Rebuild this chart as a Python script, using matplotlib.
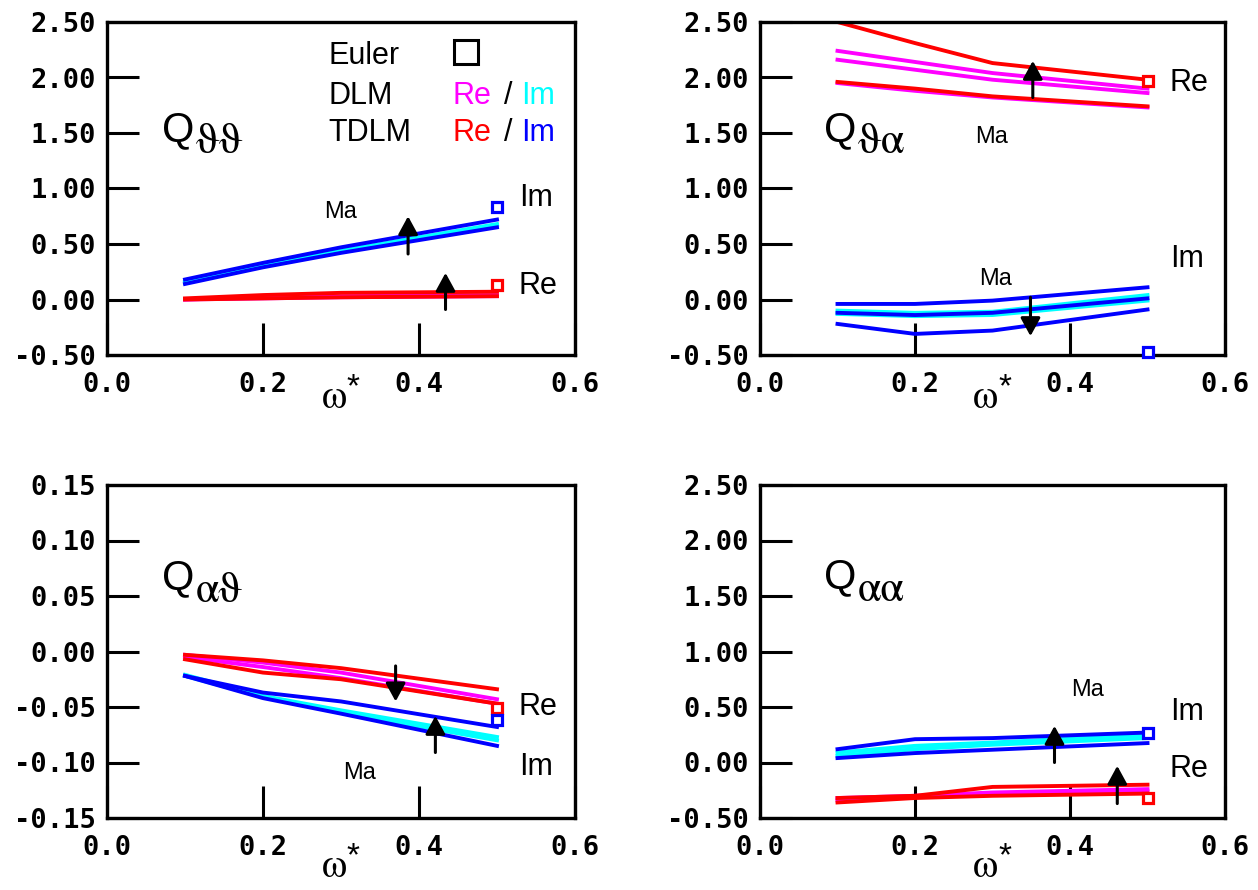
import matplotlib
matplotlib.use("Agg")
import matplotlib.pyplot as plt
import numpy as np
from matplotlib.ticker import FormatStrFormatter

plt.rcParams['axes.unicode_minus'] = False

# ---------------- data ----------------
omega = [0.1, 0.2, 0.3, 0.5]
omega_euler = 0.5

# Q_theta_theta
tt_dlm_re = [[0.00, 0.01, 0.02, 0.03], [0.00, 0.02, 0.03, 0.04]]
tt_dlm_im = [[0.16, 0.31, 0.44, 0.68], [0.15, 0.30, 0.43, 0.67]]
tt_tdlm_re = [[0.00, 0.01, 0.02, 0.03], [0.01, 0.04, 0.06, 0.07]]
tt_tdlm_im = [[0.14, 0.29, 0.42, 0.65], [0.18, 0.33, 0.47, 0.72]]
tt_euler_re = 0.13
tt_euler_im = 0.83

# Q_theta_alpha
ta_dlm_re = [[1.95, 1.88, 1.82, 1.73], [2.16, 2.07, 1.98, 1.86], [2.24, 2.14, 2.04, 1.90]]
ta_dlm_im = [[-0.10, -0.12, -0.11, 0.04], [-0.13, -0.15, -0.14, -0.01]]
ta_tdlm_re = [[1.96, 1.90, 1.83, 1.74], [2.50, 2.31, 2.13, 1.98]]
ta_tdlm_im = [[-0.04, -0.04, -0.01, 0.11], [-0.12, -0.14, -0.12, 0.01], [-0.22, -0.31, -0.28, -0.09]]
ta_euler_re = 1.97
ta_euler_im = -0.47

# Q_alpha_theta
at_dlm_re = [[-0.003, -0.010, -0.019, -0.043], [-0.005, -0.014, -0.024, -0.047]]
at_dlm_im = [[-0.021, -0.040, -0.053, -0.077], [-0.022, -0.041, -0.055, -0.080]]
at_tdlm_re = [[-0.003, -0.008, -0.015, -0.034], [-0.007, -0.019, -0.025, -0.047]]
at_tdlm_im = [[-0.022, -0.037, -0.045, -0.068], [-0.022, -0.042, -0.056, -0.085]]
at_euler_re = -0.051
at_euler_im = -0.062

# Q_alpha_alpha
aa_dlm_re = [[-0.32, -0.30, -0.27, -0.24], [-0.34, -0.31, -0.29, -0.26]]
aa_dlm_im = [[0.09, 0.15, 0.18, 0.25], [0.06, 0.12, 0.16, 0.22]]
aa_tdlm_re = [[-0.36, -0.32, -0.30, -0.28], [-0.32, -0.30, -0.22, -0.20]]
aa_tdlm_im = [[0.04, 0.085, 0.115, 0.175], [0.12, 0.21, 0.22, 0.27]]
aa_euler_re = -0.32
aa_euler_im = 0.27

x_ticks = [0.0, 0.2, 0.4, 0.6]
y_ticks_big = [-0.5, 0.0, 0.5, 1.0, 1.5, 2.0, 2.5]
y_ticks_small = [-0.15, -0.10, -0.05, 0.0, 0.05, 0.10, 0.15]

C_DLM_RE = '#ff00ff'
C_DLM_IM = '#00ffff'
C_TDLM_RE = '#ff0000'
C_TDLM_IM = '#0000ff'

SANS = 'Liberation Sans'
TICKFONT = dict(family='DejaVu Sans Mono', weight='bold', size=19.5)

fig = plt.figure(figsize=(12.58, 8.90), dpi=100)

W, H = 1258.0, 890.0
def add_ax(l, r, t, b):
    return fig.add_axes([l / W, 1 - b / H, (r - l) / W, (b - t) / H])

ax1 = add_ax(107, 575, 22, 355)
ax2 = add_ax(760, 1225, 22, 355)
ax3 = add_ax(107, 575, 485, 818)
ax4 = add_ax(760, 1225, 485, 818)


def style(ax, yticks, yfmt, xlab_y):
    ax.set_xlim(0, 0.6)
    ax.set_ylim(yticks[0], yticks[-1])
    ax.set_xticks(x_ticks)
    ax.set_yticks(yticks)
    ax.xaxis.set_major_formatter(FormatStrFormatter('%.1f'))
    ax.yaxis.set_major_formatter(FormatStrFormatter(yfmt))
    for s in ax.spines.values():
        s.set_linewidth(2.4)
    ax.tick_params(direction='in', length=23, width=2.2, top=False, right=False)
    ax.tick_params(axis='x', pad=12)
    ax.tick_params(axis='y', pad=8)
    for lab in ax.get_xticklabels() + ax.get_yticklabels():
        lab.set_fontfamily(TICKFONT['family'])
        lab.set_fontweight(TICKFONT['weight'])
        lab.set_fontsize(TICKFONT['size'])
    # axis label: upright omega with a star
    ax.text(0.485, xlab_y, '\u03c9', transform=ax.transAxes, ha='center',
            va='baseline', fontsize=29, family='STIXGeneral', clip_on=False)
    ax.annotate('*', xy=(0.485, xlab_y), xycoords='axes fraction',
                xytext=(9, 9), textcoords='offset points', ha='left',
                va='baseline', fontsize=24, family=SANS, annotation_clip=False)


def draw(ax, dlm_re, dlm_im, tdlm_re, tdlm_im, e_re, e_im):
    for ys in dlm_re:
        ax.plot(omega, ys, color=C_DLM_RE, lw=2.8, solid_joinstyle='miter')
    for ys in dlm_im:
        ax.plot(omega, ys, color=C_DLM_IM, lw=2.8, solid_joinstyle='miter')
    for ys in tdlm_re:
        ax.plot(omega, ys, color=C_TDLM_RE, lw=2.8, solid_joinstyle='miter')
    for ys in tdlm_im:
        ax.plot(omega, ys, color=C_TDLM_IM, lw=2.8, solid_joinstyle='miter')
    ax.plot([omega_euler], [e_re], ls='none', marker='s', ms=7.5, mfc='white',
            mec=C_TDLM_RE, mew=2.3, clip_on=False, zorder=5)
    ax.plot([omega_euler], [e_im], ls='none', marker='s', ms=7.5, mfc='white',
            mec=C_TDLM_IM, mew=2.3, clip_on=False, zorder=5)


def arrow(ax, x, y0, y1):
    ax.annotate('', xy=(x, y1), xytext=(x, y0),
                arrowprops=dict(arrowstyle='-|>,head_width=0.3,head_length=0.55',
                                mutation_scale=20, lw=2.2, color='k',
                                shrinkA=0, shrinkB=0))


def title(ax, x, y, sub):
    ax.text(x, y, 'Q', fontsize=30, family=SANS, va='baseline', ha='left')
    ax.annotate(sub, xy=(x, y), xytext=(24, -9), textcoords='offset points',
                fontsize=31, family='STIXGeneral', va='baseline', ha='left')


def label(ax, x, y, s, size=22, color='k'):
    ax.text(x, y, s, fontsize=size, family=SANS, color=color, va='baseline', ha='left')


# ---- panel 1 ----
style(ax1, y_ticks_big, '%.2f', -0.16)
draw(ax1, tt_dlm_re, tt_dlm_im, tt_tdlm_re, tt_tdlm_im, tt_euler_re, tt_euler_im)
title(ax1, 0.071, 1.43, '\u03d1\u03d1')
arrow(ax1, 0.386, 0.41, 0.75)
arrow(ax1, 0.434, -0.09, 0.24)
label(ax1, 0.279, 0.73, 'Ma', size=17)
label(ax1, 0.528, 0.84, 'Im')
label(ax1, 0.528, 0.05, 'Re')
# legend block
label(ax1, 0.284, 2.12, 'Euler')
label(ax1, 0.284, 1.76, 'DLM')
label(ax1, 0.284, 1.43, 'TDLM')
ax1.plot([0.46], [2.23], ls='none', marker='s', ms=17, mfc='none', mec='k', mew=2.2)
label(ax1, 0.443, 1.76, 'Re', color=C_DLM_RE)
label(ax1, 0.509, 1.76, '/')
label(ax1, 0.531, 1.76, 'Im', color=C_DLM_IM)
label(ax1, 0.443, 1.43, 'Re', color=C_TDLM_RE)
label(ax1, 0.509, 1.43, '/')
label(ax1, 0.531, 1.43, 'Im', color=C_TDLM_IM)

# ---- panel 2 ----
style(ax2, y_ticks_big, '%.2f', -0.16)
draw(ax2, ta_dlm_re, ta_dlm_im, ta_tdlm_re, ta_tdlm_im, ta_euler_re, ta_euler_im)
title(ax2, 0.083, 1.43, '\u03d1\u03b1')
arrow(ax2, 0.352, 1.82, 2.15)
arrow(ax2, 0.349, 0.02, -0.33)
label(ax2, 0.278, 1.41, 'Ma', size=17)
label(ax2, 0.283, 0.13, 'Ma', size=17)
label(ax2, 0.529, 1.88, 'Re')
label(ax2, 0.529, 0.29, 'Im')

# ---- panel 3 ----
style(ax3, y_ticks_small, '%.2f', -0.178)
draw(ax3, at_dlm_re, at_dlm_im, at_tdlm_re, at_tdlm_im, at_euler_re, at_euler_im)
title(ax3, 0.071, 0.056, '\u03b1\u03d1')
arrow(ax3, 0.370, -0.013, -0.045)
arrow(ax3, 0.421, -0.091, -0.058)
label(ax3, 0.303, -0.115, 'Ma', size=17)
label(ax3, 0.528, -0.057, 'Re')
label(ax3, 0.528, -0.111, 'Im')

# ---- panel 4 ----
style(ax4, y_ticks_big, '%.2f', -0.178)
draw(ax4, aa_dlm_re, aa_dlm_im, aa_tdlm_re, aa_tdlm_im, aa_euler_re, aa_euler_im)
title(ax4, 0.083, 1.57, '\u03b1\u03b1')
arrow(ax4, 0.380, 0.0, 0.33)
arrow(ax4, 0.461, -0.37, -0.03)
label(ax4, 0.401, 0.60, 'Ma', size=17)
label(ax4, 0.529, 0.38, 'Im')
label(ax4, 0.529, -0.13, 'Re')

fig.savefig('out.png', dpi=100)
